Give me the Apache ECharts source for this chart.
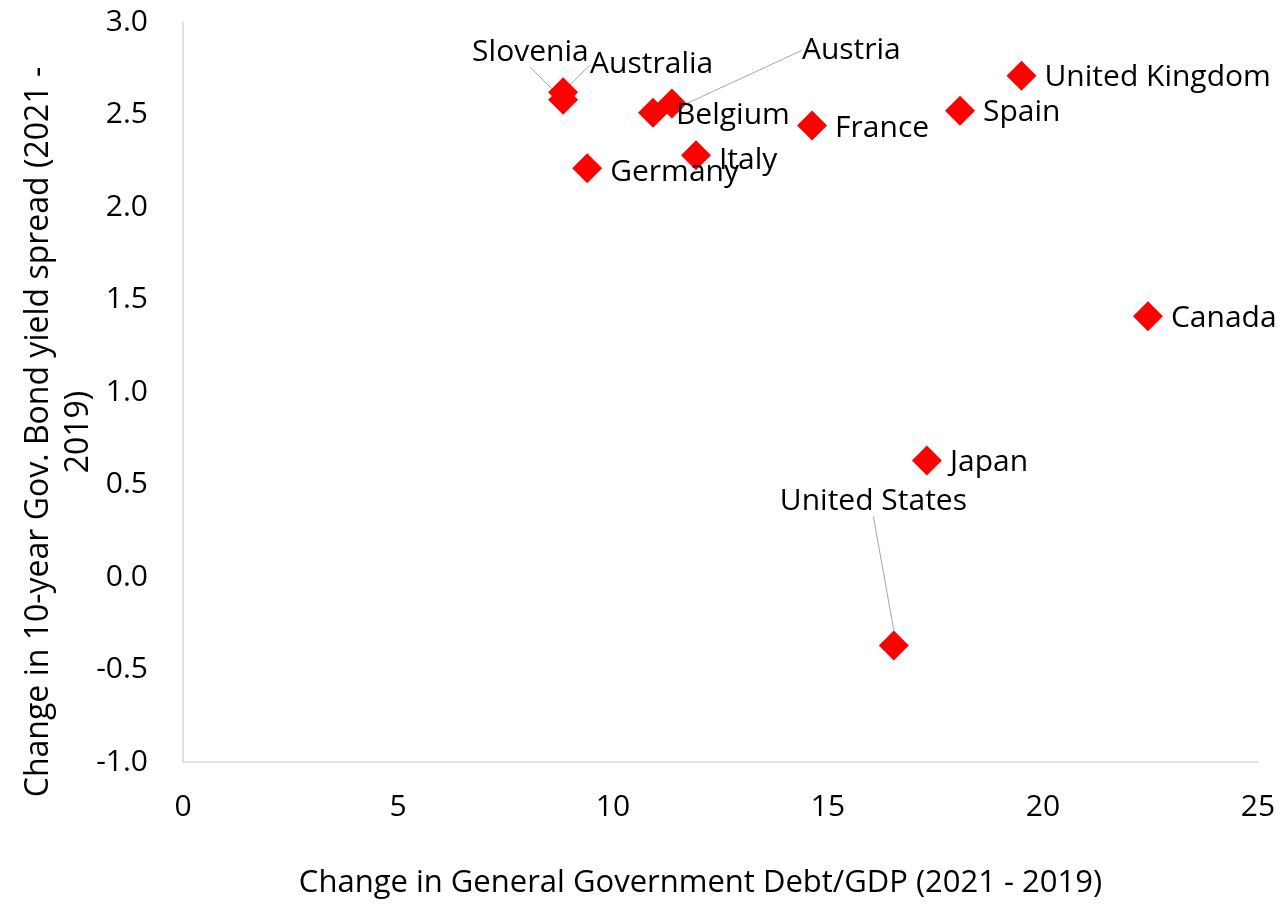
<!DOCTYPE html>
<html>
<head>
<meta charset="utf-8">
<script src="https://cdn.jsdelivr.net/npm/echarts@6/dist/echarts.min.js"></script>
<style>
  html, body { margin: 0; padding: 0; background: #fff; }
  #main { width: 1286px; height: 906px; }
</style>
</head>
<body>
<div id="main"></div>
<script>
// country names
const countries = ['Slovenia', 'Australia', 'Belgium', 'Austria', 'Italy', 'Germany',
  'France', 'Spain', 'United Kingdom', 'Canada', 'Japan', 'United States']
// change in debt/GDP (2021 - 2019)
const debtChange = [8.84, 8.84, 10.93, 11.37, 11.93, 9.40, 14.63, 18.07, 19.50, 22.44, 17.30, 16.53]
// change in 10y yield spread (2021 - 2019)
const yieldChange = [2.62, 2.58, 2.51, 2.56, 2.28, 2.21, 2.44, 2.52, 2.71, 1.41, 0.63, -0.37]

const xTicks = { min: 0, max: 25, interval: 5 }
const yTicks = { min: -1, max: 3, interval: 0.5 }

// label nudges (px) for the crowded ones, with leader lines
const labelMoves = {
  Slovenia: [-114, -40],
  Australia: [4, -35],
  Austria: [107, -53],
  'United States': [-137, -144],
  Italy: [0, 5],
  Germany: [0, 4],
  'United Kingdom': [0, 2],
  Canada: [0, 2],
  France: [0, 3],
  Spain: [0, 2],
  Belgium: [0, 3],
  Japan: [0, 2]
}
const withLine = ['Slovenia', 'Australia', 'Austria', 'United States']

const font = '"Open Sans", "Noto Sans", sans-serif'

const chart = echarts.init(document.getElementById('main'))

const points = countries.map((name, i) => ({
  name: name,
  value: [debtChange[i], yieldChange[i]],
  labelLine: { show: withLine.indexOf(name) >= 0 }
}))

chart.setOption({
  animation: false,
  backgroundColor: '#fff',
  textStyle: { fontFamily: font },
  grid: { left: 183, right: 28, top: 22, bottom: 144, outerBoundsMode: 'none' },
  xAxis: {
    type: 'value',
    min: xTicks.min,
    max: xTicks.max,
    interval: xTicks.interval,
    name: 'Change in General Government Debt/GDP (2021 - 2019)',
    nameLocation: 'middle',
    nameGap: 106,
    nameMoveOverlap: false,
    nameTextStyle: { fontSize: 31, color: '#000', fontFamily: font, padding: [0, 40, 0, 0] },
    axisLine: { show: true, onZero: false, lineStyle: { color: '#d9d9d9', width: 1.5 } },
    axisTick: { show: false },
    splitLine: { show: false },
    axisLabel: { fontSize: 30, color: '#000', margin: 30, fontFamily: font }
  },
  yAxis: {
    type: 'value',
    min: yTicks.min,
    max: yTicks.max,
    interval: yTicks.interval,
    name: 'Change in 10-year Gov. Bond yield spread (2021 -\n2019)',
    nameLocation: 'middle',
    nameGap: 84,
    nameMoveOverlap: false,
    nameTextStyle: { fontSize: 32, color: '#000', lineHeight: 40, fontFamily: font, padding: [0, 80, 0, 0] },
    axisLine: { show: true, onZero: false, lineStyle: { color: '#d9d9d9', width: 1.5 } },
    axisTick: { show: false },
    splitLine: { show: false },
    axisLabel: {
      fontSize: 30,
      color: '#000',
      margin: 35,
      fontFamily: font,
      formatter: v => v.toFixed(1)
    }
  },
  series: [{
    type: 'scatter',
    symbol: 'diamond',
    symbolSize: 30,
    itemStyle: { color: '#ff0000', opacity: 1 },
    emphasis: { disabled: true },
    data: points,
    label: {
      show: true,
      position: 'right',
      distance: 8,
      formatter: p => p.name,
      fontSize: 30,
      color: '#000',
      fontFamily: font
    },
    labelLine: {
      lineStyle: { color: '#a6a6a6', width: 1 }
    },
    labelLayout: function (params) {
      const m = labelMoves[countries[params.dataIndex]]
      if (!m) return {}
      return { dx: m[0], dy: m[1] }
    }
  }]
})
</script>
</body>
</html>
